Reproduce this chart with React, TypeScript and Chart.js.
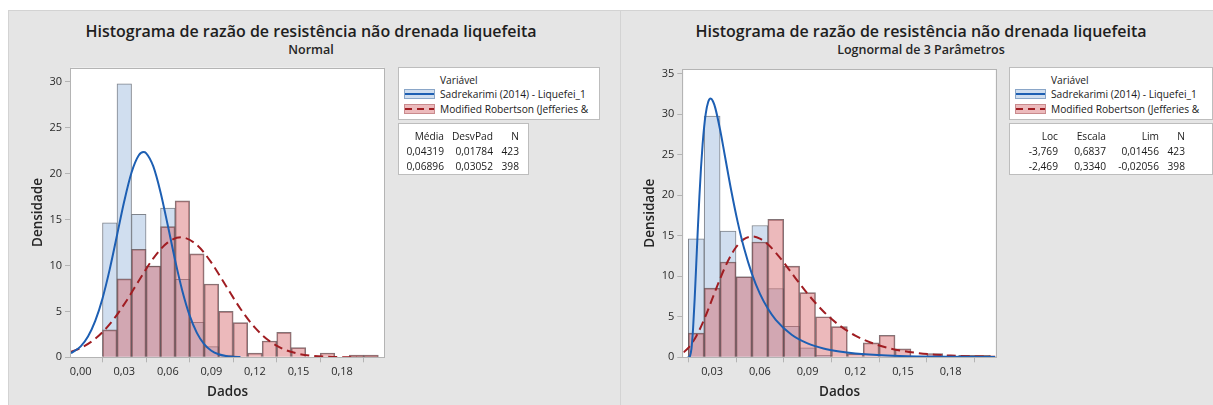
import React, { useEffect, useRef } from 'react';
import { Chart, registerables } from 'chart.js';

Chart.register(...registerables);

// ---------- DATA ----------
const chartTitle = 'Histograma de razão de resistência não drenada liquefeita';
const subtitleLeft = 'Normal';
const subtitleRight = 'Lognormal de 3 Parâmetros';
const legendHeader = 'Variável';
const seriesNames = ['Sadrekarimi (2014) - Liquefei_1', 'Modified Robertson (Jefferies &'];
const xAxisTitle = 'Dados';
const yAxisTitle = 'Densidade';

// histogram bins (centres, width 0.01)
const binCenters = [0.02, 0.03, 0.04, 0.05, 0.06, 0.07, 0.08, 0.09, 0.10, 0.11, 0.12, 0.13, 0.14, 0.15, 0.16, 0.17, 0.18, 0.19, 0.20];
const sadrekarimiDensity = [14.64, 29.78, 15.58, 9.93, 16.27, 8.5, 3.81, 1.16, 0.23, 0, 0, 0, 0, 0, 0, 0, 0, 0, 0];
const robertsonDensity = [2.98, 8.54, 11.77, 9.95, 14.24, 17.04, 11.26, 7.99, 5.01, 3.78, 0.45, 1.78, 2.72, 1.05, 0, 0.47, 0, 0.25, 0.25];

// fitted curves
const normalBlueX = [-0.0067, 0, 0.005, 0.01, 0.015, 0.02, 0.025, 0.03, 0.035, 0.04, 0.0432, 0.045, 0.05, 0.055, 0.06, 0.065, 0.07, 0.075, 0.08, 0.085, 0.09, 0.095, 0.1, 0.105, 0.11];
const normalBlueY = [0.448, 1.194, 2.261, 3.963, 6.416, 9.607, 13.3, 17.02, 20.13, 22.01, 22.36, 22.25, 20.79, 17.96, 14.35, 10.59, 7.23, 4.562, 2.661, 1.435, 0.715, 0.33, 0.14, 0.055, 0.02];
const normalRedX = [-0.0067, 0, 0.01, 0.02, 0.03, 0.04, 0.05, 0.06, 0.069, 0.08, 0.09, 0.1, 0.11, 0.12, 0.13, 0.14, 0.15, 0.16, 0.17, 0.18, 0.19];
const normalRedY = [0.605, 1.018, 2.022, 3.611, 5.787, 8.333, 10.78, 12.52, 13.07, 12.25, 10.31, 7.794, 5.293, 3.229, 1.769, 0.871, 0.385, 0.153, 0.055, 0.018, 0.005];
const lognBlueX = [0.01456, 0.0155, 0.016, 0.017, 0.018, 0.019, 0.02, 0.021, 0.022, 0.023, 0.024, 0.025, 0.026, 0.0275, 0.029, 0.0305, 0.032, 0.035, 0.038, 0.042, 0.046, 0.05, 0.055, 0.06, 0.065, 0.07, 0.08, 0.09, 0.1, 0.11, 0.12, 0.14, 0.16, 0.18, 0.2, 0.208];
const lognBlueY = [0, 0.011, 0.108, 1.08, 3.52, 7.19, 11.49, 15.87, 19.92, 23.43, 26.3, 28.52, 30.13, 31.52, 31.95, 31.62, 30.77, 28.1, 24.89, 20.59, 16.75, 13.52, 10.31, 7.86, 6.02, 4.63, 2.79, 1.72, 1.09, 0.71, 0.47, 0.22, 0.107, 0.056, 0.03, 0.025];
const lognRedX = [0.012, 0.015, 0.02, 0.025, 0.03, 0.035, 0.04, 0.045, 0.05, 0.0552, 0.06, 0.065, 0.07, 0.075, 0.08, 0.09, 0.1, 0.11, 0.12, 0.13, 0.14, 0.15, 0.16, 0.17, 0.18, 0.19, 0.2, 0.208];
const lognRedY = [0.61, 1.151, 2.598, 4.688, 7.177, 9.703, 11.92, 13.59, 14.59, 14.92, 14.66, 13.95, 12.92, 11.71, 10.4, 7.853, 5.661, 3.947, 2.687, 1.797, 1.187, 0.777, 0.506, 0.328, 0.213, 0.138, 0.089, 0.066];

// statistics tables
const normalStatHeaders = ['Média', 'DesvPad', 'N'];
const normalStatRows = [['0,04319', '0,01784', '423'], ['0,06896', '0,03052', '398']];
const lognStatHeaders = ['Loc', 'Escala', 'Lim', 'N'];
const lognStatRows = [['-3,769', '0,6837', '0,01456', '423'], ['-2,469', '0,3340', '-0,02056', '398']];

// ---------- STYLE ----------
const FONT = '"Open Sans", "Noto Sans", sans-serif';
const BLUE_LINE = '#1d5fb3';
const RED_LINE = '#a01d22';
const BLUE_FILL = 'rgb(208,222,239)';
const RED_FILL = 'rgba(213,100,105,0.45)';
const FRAME = '#b4b4b4';

const pts = (xs: number[], ys: number[]) => xs.map((x, i) => ({ x, y: ys[i] }));
const bars = (ys: number[]) => binCenters.map((x, i) => ({ x, y: ys[i] > 0 ? ys[i] : null }));

const framePlugin = {
  id: 'plotFrame',
  beforeDraw(chart: any) {
    const { ctx, chartArea: a } = chart;
    ctx.save();
    ctx.fillStyle = '#ffffff';
    ctx.fillRect(a.left, a.top, a.right - a.left, a.bottom - a.top);
    ctx.restore();
  },
  afterDraw(chart: any) {
    const { ctx, chartArea: a } = chart;
    ctx.save();
    ctx.strokeStyle = FRAME;
    ctx.lineWidth = 1;
    ctx.strokeRect(Math.round(a.left) - 0.5, Math.round(a.top) + 0.5, Math.round(a.right) - Math.round(a.left) + 1, Math.round(a.bottom) - Math.round(a.top));
    ctx.restore();
  },
};

interface Spec {
  left: number;
  width: number;
  subtitle: string;
  titleCenter: number;
  xMin: number;
  xMax: number;
  yMax: number;
  pad: { left: number; top: number; right: number; bottom: number };
  yWidth: number;
  blue: { x: number; y: number }[];
  red: { x: number; y: number }[];
  legendBox: { left: number; width: number };
  statsBox: { left: number; width: number };
  statHeaders: string[];
  statRows: string[][];
  statCols: number[];
}

const leftSpec: Spec = {
  left: 8,
  width: 606,
  subtitle: subtitleLeft,
  titleCenter: 311,
  xMin: -0.0067,
  xMax: 0.2089,
  yMax: 31.55,
  pad: { left: 22, top: 57.7, right: 230, bottom: 4.3 },
  yWidth: 41,
  blue: pts(normalBlueX, normalBlueY),
  red: pts(normalRedX, normalRedY),
  legendBox: { left: 398, width: 202 },
  statsBox: { left: 398, width: 131 },
  statHeaders: normalStatHeaders,
  statRows: normalStatRows,
  statCols: [47, 96, 122],
};

const rightSpec: Spec = {
  left: 620,
  width: 593,
  subtitle: subtitleRight,
  titleCenter: 921,
  xMin: 0.01186,
  xMax: 0.2083,
  yMax: 35.6,
  pad: { left: 22, top: 59, right: 217.3, bottom: 4.3 },
  yWidth: 41.3,
  blue: pts(lognBlueX, lognBlueY),
  red: pts(lognRedX, lognRedY),
  legendBox: { left: 1009, width: 204 },
  statsBox: { left: 1009, width: 204 },
  statHeaders: lognStatHeaders,
  statRows: lognStatRows,
  statCols: [50, 98, 151, 177],
};

function Swatch({ dashed }: { dashed: boolean }) {
  return (
    <svg width={31} height={10} style={{ position: 'absolute', left: 0, top: 0 }}>
      <rect x={0.5} y={0.5} width={30} height={9} fill={dashed ? 'rgb(236,186,188)' : BLUE_FILL} stroke={dashed ? '#c98a8d' : '#8aa6c8'} strokeWidth={1} />
      <line x1={1} y1={5} x2={30} y2={5} stroke={dashed ? RED_LINE : BLUE_LINE} strokeWidth={2} strokeDasharray={dashed ? '7 5' : undefined} />
    </svg>
  );
}

function Panel({ spec }: { spec: Spec }) {
  const ref = useRef<HTMLCanvasElement | null>(null);
  useEffect(() => {
    if (!ref.current) return;
    const tickFont = { family: FONT, size: 11 };
    const chart = new Chart(ref.current, {
      type: 'bar',
      data: {
        datasets: [
          { type: 'line', label: seriesNames[0], data: spec.blue, borderColor: BLUE_LINE, borderWidth: 2, pointRadius: 0, cubicInterpolationMode: 'monotone', fill: false, order: 0 } as any,
          { type: 'line', label: seriesNames[1], data: spec.red, borderColor: RED_LINE, borderWidth: 2, borderDash: [9, 5], pointRadius: 0, cubicInterpolationMode: 'monotone', fill: false, order: 1 } as any,
          { type: 'bar', label: seriesNames[1], data: bars(robertsonDensity), backgroundColor: RED_FILL, borderColor: 'rgba(100,80,84,0.8)', borderWidth: 1, grouped: false, barPercentage: 1, categoryPercentage: 1, order: 2 } as any,
          { type: 'bar', label: seriesNames[0], data: bars(sadrekarimiDensity), backgroundColor: BLUE_FILL, borderColor: 'rgba(105,110,120,0.85)', borderWidth: 1, grouped: false, barPercentage: 1, categoryPercentage: 1, order: 3 } as any,
        ],
      },
      options: {
        responsive: false,
        maintainAspectRatio: false,
        animation: false,
        events: [],
        layout: { padding: spec.pad },
        plugins: { legend: { display: false }, tooltip: { enabled: false } },
        scales: {
          x: {
            type: 'linear',
            min: spec.xMin,
            max: spec.xMax,
            offset: false,
            grid: { drawOnChartArea: false, drawTicks: true, tickLength: 5, color: FRAME },
            border: { display: false },
            ticks: {
              stepSize: 0.03,
              includeBounds: false,
              autoSkip: false,
              maxRotation: 0,
              padding: 3,
              color: '#2a2a2a',
              font: tickFont,
              callback: (v: any) => Number(v).toFixed(2).replace('.', ','),
            },
            title: { display: true, text: xAxisTitle, color: '#262626', font: { family: FONT, size: 13.5, weight: '600' }, padding: 0 },
            afterFit: (s: any) => { s.height = 43.4; },
          } as any,
          y: {
            type: 'linear',
            min: 0,
            max: spec.yMax,
            grid: { drawOnChartArea: false, drawTicks: true, tickLength: 6, color: FRAME },
            border: { display: false },
            ticks: { stepSize: 5, includeBounds: false, padding: 3, color: '#2a2a2a', font: tickFont },
            title: { display: true, text: yAxisTitle, color: '#262626', font: { family: FONT, size: 13.5, weight: '600' }, padding: 0 },
            afterFit: (s: any) => { s.width = spec.yWidth; },
          } as any,
        },
      },
      plugins: [framePlugin],
    } as any);
    return () => chart.destroy();
  }, [spec]);

  const lb = spec.legendBox;
  const sb = spec.statsBox;
  const textStyle: React.CSSProperties = { position: 'absolute', fontSize: 10.2, lineHeight: '14px', color: '#1a1a1a', whiteSpace: 'nowrap' };
  return (
    <>
      <div style={{ position: 'absolute', left: spec.left, top: 10, width: spec.width + 10, height: 405, background: '#e5e5e5', border: '1px solid #d3d3d3', boxSizing: 'border-box' }} />
      <div style={{ position: 'absolute', left: spec.titleCenter - 300, width: 600, top: 20, textAlign: 'center', fontSize: 16, lineHeight: '22px', fontWeight: 600, color: '#1e1e1e', whiteSpace: 'nowrap' }}>{chartTitle}</div>
      <div style={{ position: 'absolute', left: spec.titleCenter - 300, width: 600, top: 41, textAlign: 'center', fontSize: 12.5, lineHeight: '18px', fontWeight: 600, color: '#262626', whiteSpace: 'nowrap' }}>{spec.subtitle}</div>
      <canvas ref={ref} width={spec.width} height={395} style={{ position: 'absolute', left: spec.left, top: 10, width: spec.width, height: 395 }} />
      <div style={{ position: 'absolute', left: lb.left, top: 67, width: lb.width, height: 53, background: '#ffffff', border: '1px solid #bdbdbd', boxSizing: 'border-box' }}>
        <div style={{ ...textStyle, left: 41, top: 5 }}>{legendHeader}</div>
        <div style={{ position: 'absolute', left: 5, top: 21 }}><Swatch dashed={false} /></div>
        <div style={{ ...textStyle, left: 41, top: 19 }}>{seriesNames[0]}</div>
        <div style={{ position: 'absolute', left: 5, top: 36 }}><Swatch dashed={true} /></div>
        <div style={{ ...textStyle, left: 41, top: 34 }}>{seriesNames[1]}</div>
      </div>
      <div style={{ position: 'absolute', left: sb.left, top: 123, width: sb.width, height: 52, background: '#ffffff', border: '1px solid #bdbdbd', boxSizing: 'border-box' }}>
        {spec.statHeaders.map((h, i) => (
          <div key={'h' + i} style={{ ...textStyle, right: sb.width - spec.statCols[i], top: 5 }}>{h}</div>
        ))}
        {spec.statRows.map((row, r) =>
          row.map((c, i) => (
            <div key={r + '-' + i} style={{ ...textStyle, right: sb.width - spec.statCols[i], top: 20 + r * 15 }}>{c}</div>
          ))
        )}
      </div>
    </>
  );
}

export default function App() {
  useEffect(() => {
    document.body.style.margin = '0';
  }, []);
  return (
    <div style={{ position: 'absolute', left: 0, top: 0, width: 1213, height: 405, overflow: 'hidden', background: '#ffffff', fontFamily: FONT }}>
      <Panel spec={leftSpec} />
      <Panel spec={rightSpec} />
    </div>
  );
}
